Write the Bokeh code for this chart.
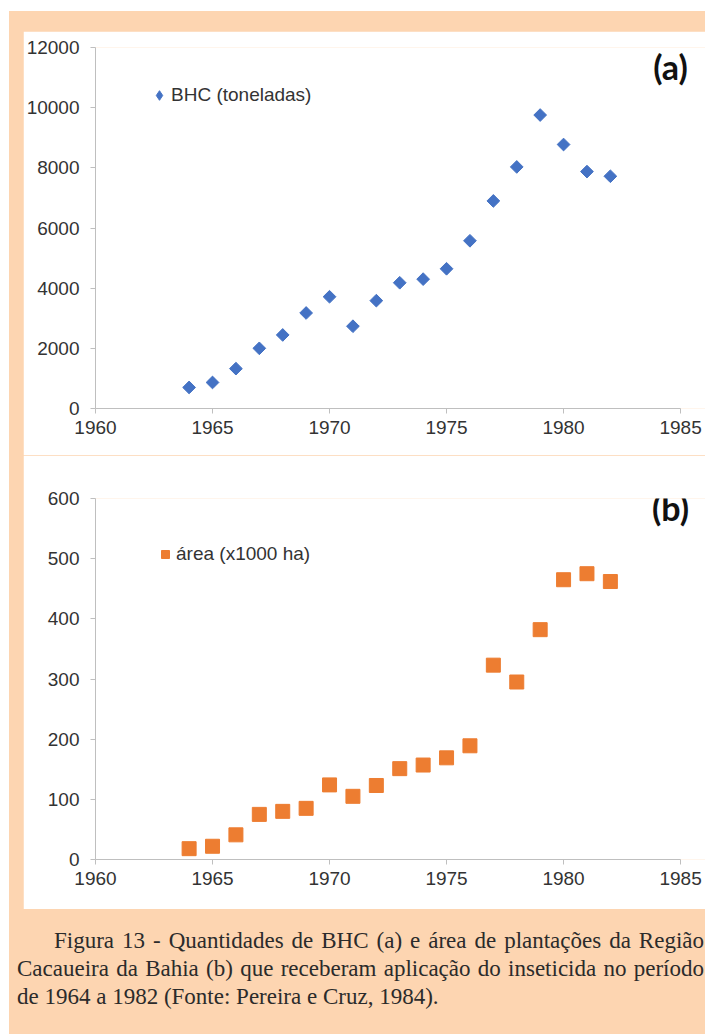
from bokeh.plotting import figure
from bokeh.models import (Range1d, SingleIntervalTicker, Legend, LegendItem, Label,
                          Div, Spacer, ColumnDataSource)
from bokeh.layouts import column, row
from bokeh.embed import file_html
from bokeh.resources import INLINE

# ---- data ----
years = list(range(1964, 1983))
bhc_toneladas = [700, 865, 1325, 2000, 2445, 3175, 3715, 2735, 3585, 4180,
                 4300, 4645, 5575, 6900, 8030, 9755, 8775, 7875, 7720]
area_x1000_ha = [18, 22, 41, 75, 80, 85, 124, 105, 123, 151,
                 157, 169, 189, 323, 295, 382, 465, 475, 462]
x_axis_start, x_axis_end = 1960, 1985
x_ticks_step = 5
label_a = "BHC (toneladas)"
label_b = "área (x1000 ha)"
caption_lines = [
    "Figura 13 - Quantidades de BHC (a) e área de plantações da Região",
    "Cacaueira da Bahia (b) que receberam aplicação do inseticida no período",
    "de 1964 a 1982 (Fonte: Pereira e Cruz, 1984).",
]

PEACH = "#FDD5B1"
BLUE = "#4472C4"
ORANGE = "#ED7D31"
AXIS = "#BFBFBF"
TXT = "#333333"

FIG_W = 682
BORDER_L = 70
AXIS_PX = 587          # pixel length of the 1960-1985 axis
FRAME_W = FIG_W - BORDER_L
x_view_end = x_axis_start + (x_axis_end - x_axis_start) * FRAME_W / AXIS_PX


def make_panel(ys, ymax, ystep, color, marker, size, angle, leg_marker, label, legloc,
               glyph_w, standoff, tag, tag_y, height, top, bottom):
    p = figure(width=FIG_W, height=height,
               x_range=Range1d(x_axis_start, x_view_end), y_range=Range1d(0, ymax),
               output_backend="svg", toolbar_location=None,
               min_border_left=BORDER_L, min_border_right=0,
               min_border_top=top, min_border_bottom=bottom,
               background_fill_color="white", border_fill_color="white",
               outline_line_color=None)
    p.grid.visible = False
    p.xaxis.ticker = SingleIntervalTicker(interval=x_ticks_step, num_minor_ticks=0)
    p.xaxis.bounds = (x_axis_start, x_axis_end)
    p.yaxis.ticker = SingleIntervalTicker(interval=ystep, num_minor_ticks=0)
    for ax in p.axis:
        ax.axis_line_color = AXIS
        ax.major_tick_line_color = AXIS
        ax.minor_tick_line_color = None
        ax.major_tick_in = 0
        ax.major_tick_out = 5
        ax.major_label_text_font = "Liberation Sans"
        ax.major_label_text_font_size = "19px"
        ax.major_label_text_color = TXT
    p.yaxis.major_label_standoff = 11
    p.xaxis.major_label_standoff = 7

    src = ColumnDataSource(dict(x=years, y=ys))
    p.scatter(x="x", y="y", source=src, marker=marker, size=size, angle=angle,
              fill_color=color, line_color=color)
    # renderer used only for the legend swatch
    rl = p.scatter(x="x", y="y", source=src, marker=leg_marker, size=size,
                   fill_color=color, line_color=color, visible=False)

    leg = Legend(items=[LegendItem(label=label, renderers=[rl])], location=legloc,
                 background_fill_alpha=0, border_line_alpha=0, padding=0, margin=0,
                 spacing=0, glyph_width=glyph_w, glyph_height=glyph_w,
                 label_height=20, label_standoff=standoff,
                 label_text_font="Liberation Sans", label_text_font_size="19px",
                 label_text_color=TXT)
    p.add_layout(leg)

    p.add_layout(Label(x=1984.57, y=tag_y, text=tag, text_align="center",
                       text_baseline="middle", text_font="Lato",
                       text_font_style="bold", text_font_size="34px",
                       text_color="#111111"))
    return p


pa = make_panel(bhc_toneladas, 12000, 2000, BLUE, "square", 9, 0.785398, "diamond",
                label_a, (52, 301), 24, 0, "(a)", 11370, 424, 16, 47)
pb = make_panel(area_x1000_ha, 600, 100, ORANGE, "square", 14, 0.0, "square",
                label_b, (60, 294), 20, 1, "(b)", 585, 454, 43, 50)

line_style = ("font-family:'Liberation Serif';font-size:23px;line-height:28px;"
              "color:#2b2b2b;white-space:nowrap;")
cap_html = (
    f'<div style="box-sizing:content-box;padding:13px 0 0 3px;width:687px;{line_style}">'
    f'<div style="padding-left:37px;text-align:justify;text-align-last:justify;">{caption_lines[0]}</div>'
    f'<div style="text-align:justify;text-align-last:justify;">{caption_lines[1]}</div>'
    f'<div style="text-align:left;">{caption_lines[2]}</div>'
    '</div>'
)
cap = Div(text=cap_html, width=696, height=124)

peach_box = column(
    Spacer(width=696, height=20),
    row(Spacer(width=14, height=878), column(pa, pb, spacing=0), spacing=0),
    cap,
    spacing=0,
    styles={"background-color": PEACH},
)

root = column(
    Spacer(width=705, height=11),
    row(Spacer(width=9, height=1022), peach_box, spacing=0),
    Spacer(width=705, height=1),
    spacing=0,
    styles={"background-color": "white"},
)

open("out.html", "w").write(file_html(root, INLINE))
